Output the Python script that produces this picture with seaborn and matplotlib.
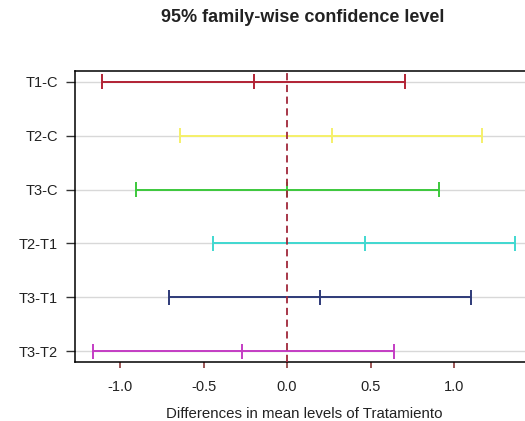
import matplotlib
matplotlib.use("Agg")
import matplotlib.pyplot as plt
import seaborn as sns
import pandas as pd

comparisons = ["T1-C", "T2-C", "T3-C", "T2-T1", "T3-T1", "T3-T2"]
diff = [-0.196, 0.268, 0.0, 0.464, 0.196, -0.268]
lwr = [-1.108, -0.639, -0.904, -0.441, -0.707, -1.163]
upr = [0.705, 1.166, 0.908, 1.365, 1.102, 0.643]
colors = ["#B22234", "#F5F06A", "#3CC83C", "#40D8D0", "#2E3A78", "#C43CC4"]
x_ticks = [-1.0, -0.5, 0.0, 0.5, 1.0]

sns.set_theme(style="white")
plt.rcParams["font.family"] = ["Liberation Sans", "DejaVu Sans"]

df = pd.DataFrame({"comp": comparisons, "diff": diff, "lwr": lwr, "upr": upr})
df["pos"] = range(len(df))

fig = plt.figure(figsize=(5.25, 4.21), dpi=100)
ax = fig.add_axes([75 / 525, 59 / 421, 457.6 / 525, 291 / 421])

for i, row in df.iterrows():
    ax.axhline(row["pos"], color="#D8D8D8", lw=1.0, zorder=0)

ax.hlines(df["pos"], df["lwr"], df["upr"], colors=colors, lw=1.4, zorder=2)
long = pd.concat([
    df[["comp", "pos"]].assign(val=df["lwr"]),
    df[["comp", "pos"]].assign(val=df["diff"]),
    df[["comp", "pos"]].assign(val=df["upr"]),
])
sns.scatterplot(data=long, x="val", y="pos", hue="comp", palette=colors,
                marker="|", s=110, linewidth=1.4, legend=False, ax=ax, zorder=3)

ax.axvline(0, color="#A0283A", lw=1.3, ls=(0, (4, 2.5)), zorder=4)

ax.set_xlim(-1.27, 1.47)
ax.set_ylim(5.2, -0.2)
ax.set_xticks(x_ticks)
ax.set_xticklabels([f"{v:.1f}" for v in x_ticks])
ax.set_yticks(df["pos"])
ax.set_yticklabels(comparisons)
ax.tick_params(axis="x", bottom=True, length=4.5, width=1.2, color="#8B3A3A",
               labelsize=10.5, pad=8.5, labelcolor="#222222")
ax.tick_params(axis="y", left=True, length=6.5, width=1.0, color="#333333",
               labelsize=10.5, pad=6, labelcolor="#222222")
ax.set_xlabel("Differences in mean levels of Tratamiento", fontsize=10.8, labelpad=9.5, color="#222222")
ax.set_ylabel("")
for s in ax.spines.values():
    s.set_color("black")
    s.set_linewidth(1.1)

fig.text(0.5 * (157 + 448) / 525, 1 - 17 / 421, "95% family-wise confidence level",
         ha="center", va="center", fontsize=13, fontweight="bold", color="#222222")

fig.savefig("out.png", dpi=100)
